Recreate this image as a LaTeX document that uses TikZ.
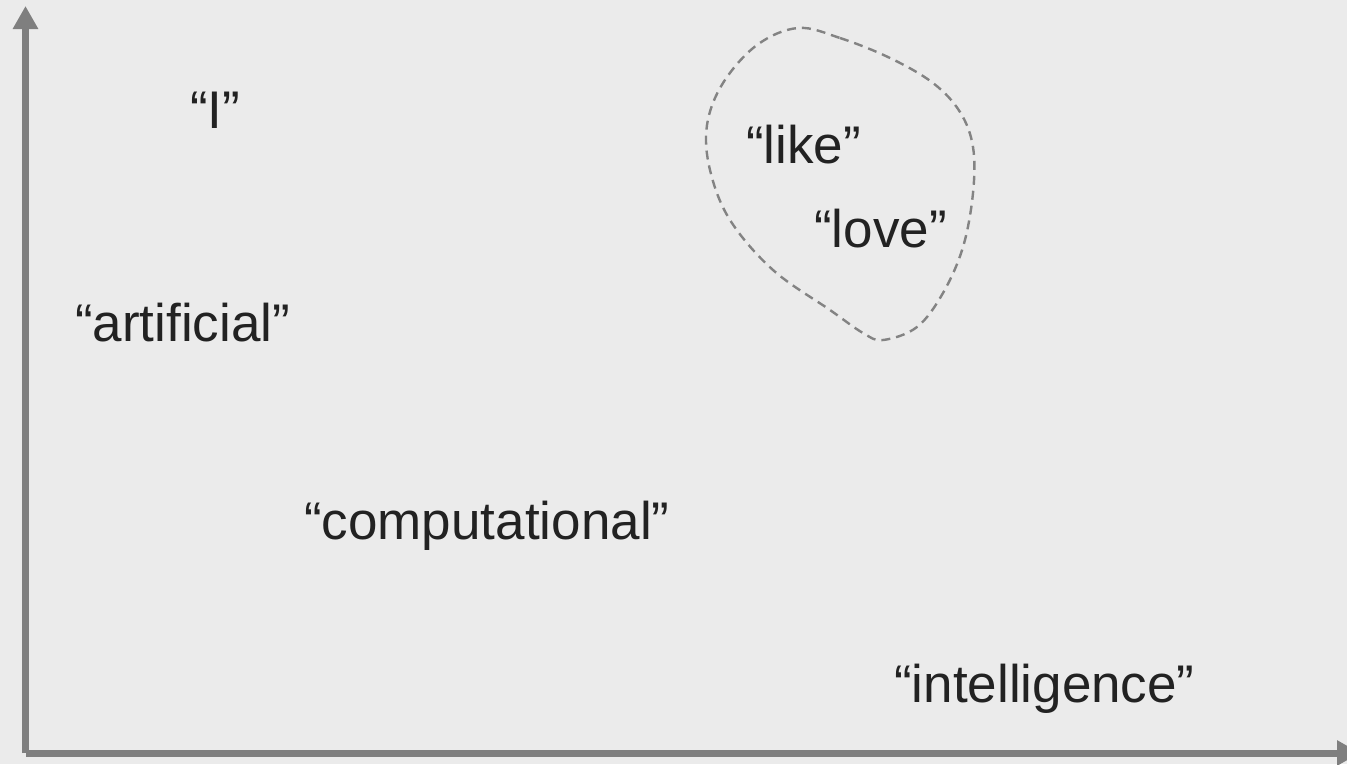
\documentclass[tikz,border=0pt]{standalone}
\usepackage{fontspec}
\setmainfont{Liberation Sans}
\usetikzlibrary{arrows.meta}
\definecolor{bg}{HTML}{EBEBEB}
\definecolor{axis}{HTML}{7F7F7F}
\definecolor{ink}{HTML}{222222}
\definecolor{blob}{HTML}{838383}
\tikzset{
  word/.style={anchor=base west, inner sep=0pt, text=ink, font=\fontsize{53}{60}\selectfont},
  axisline/.style={draw=axis, line width=7pt, -{Triangle[width=24pt,length=23pt]}},
  region/.style={draw=blob, line width=2.4pt, dash pattern=on 9pt off 6pt}
}
\begin{document}
\begin{tikzpicture}[x=1pt,y=-1pt]
\useasboundingbox (0,0) rectangle (1347,764);
\fill[bg] (0,0) rectangle (1347,764);
\clip (0,0) rectangle (1347,764);
\coordinate (origin) at (25.5,753);
\coordinate (ytip) at (25.5,6);
\coordinate (xtip) at (1360,753);
\draw[axisline] (origin) -- (ytip);
\draw[axisline] (origin) -- (xtip);
\draw[region] plot[smooth cycle, tension=0.6] coordinates {
 (798,28) (840,38) (890,58) (933,83) (960,112) (973,147) (973,193)
 (963,247) (943,293) (917,327) (883,340) (863,333) (830,310)
 (773,270) (730,220) (710,170) (707,125) (723,83) (757,45)};
\node[word] (I) at (190,128) {“I”};
\node[word] (like) at (746,163) {“like”};
\node[word] (love) at (814,247) {“love”};
\node[word] (artificial) at (75,341) {“artificial”};
\node[word] (computational) at (304,539) {“computational”};
\node[word] (intelligence) at (894,702) {“intelligence”};
\end{tikzpicture}
\end{document}
